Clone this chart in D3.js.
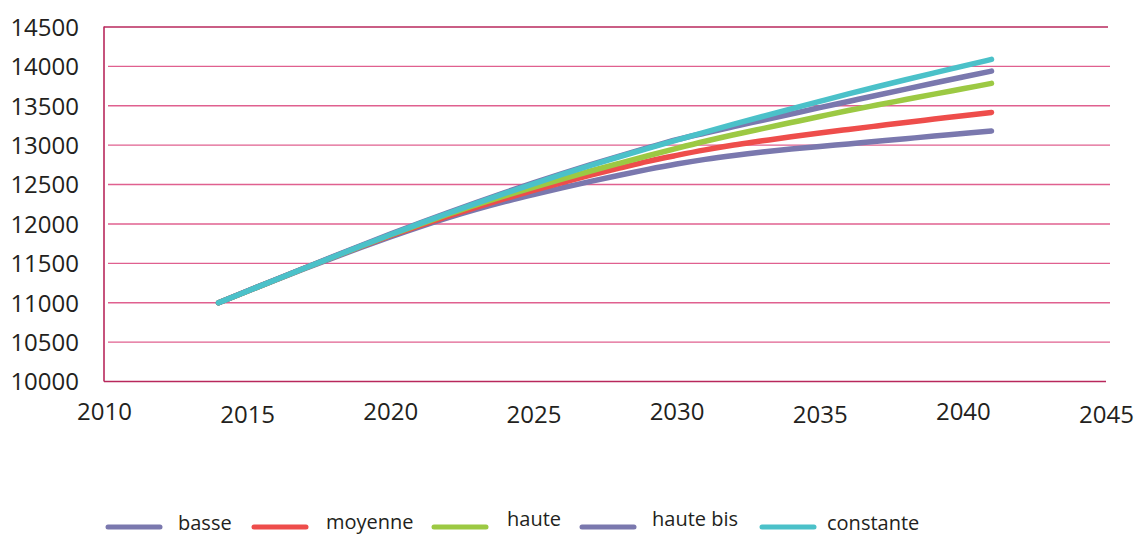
<!DOCTYPE html>
<html><head><meta charset="utf-8">
<script src="https://cdn.jsdelivr.net/npm/d3@7"></script>
<style>
html,body{margin:0;padding:0;background:#fff;}
svg{display:block;font-family:"Open Sans",sans-serif;}
</style></head>
<body>
<svg id="c" width="1142" height="536"></svg>
<script>
const years = d3.range(2014, 2042);
const basse    = [11000,11145,11289,11431,11570,11705,11835,11960,12077,12185,12283,12373,12458,12540,12618,12692,12760,12820,12870,12913,12950,12984,13016,13049,13082,13115,13147,13179];
const moyenne  = [11000,11146,11292,11437,11580,11718,11850,11975,12095,12210,12320,12425,12525,12620,12708,12795,12870,12940,13002,13055,13107,13155,13200,13244,13288,13331,13374,13416];
const haute    = [11000,11146,11292,11437,11580,11721,11860,11992,12120,12243,12357,12465,12570,12672,12770,12866,12960,13050,13132,13210,13287,13364,13440,13510,13579,13648,13716,13784];
const hauteBis = [11000,11148,11295,11441,11586,11729,11870,12008,12142,12272,12398,12520,12638,12752,12862,12968,13070,13155,13236,13316,13396,13476,13555,13634,13712,13789,13865,13940];
const constante= [11000,11146,11292,11437,11581,11723,11863,12000,12133,12262,12388,12510,12628,12742,12853,12960,13064,13166,13266,13364,13461,13556,13650,13741,13830,13917,14003,14089];
const seriesNames = ["basse","moyenne","haute","haute bis","constante"];
const seriesValues = [basse, moyenne, haute, hauteBis, constante];
const seriesColors = ["#7a78ae","#ee4d4b","#9cc943","#7a78ae","#4bc1c9"];
const yTicks = [10000,10500,11000,11500,12000,12500,13000,13500,14000,14500];
const xTicks = [2010,2015,2020,2025,2030,2035,2040,2045];

const svg = d3.select("#c");
const x = d3.scaleLinear().domain([2010,2045]).range([104,1106]);
const y = d3.scaleLinear().domain([10000,14500]).range([381.5,27]);

// gridlines
svg.append("g").selectAll("line").data(yTicks.filter(v=>v>10000 && v<14500)).join("line")
  .attr("x1",108).attr("x2",1110)
  .attr("y1",d=>y(d)).attr("y2",d=>y(d))
  .attr("stroke","#e0608f").attr("stroke-width",1.4);

// top border
svg.append("line").attr("x1",104).attr("x2",1108).attr("y1",y(14500)).attr("y2",y(14500))
  .attr("stroke","#b8285c").attr("stroke-width",1.4);
// bottom axis line
svg.append("line").attr("x1",104).attr("x2",1106).attr("y1",y(10000)).attr("y2",y(10000))
  .attr("stroke","#b8285c").attr("stroke-width",1.6);
// left axis line
svg.append("line").attr("x1",104).attr("x2",104).attr("y1",y(14500)-0.5).attr("y2",y(10000))
  .attr("stroke","#b8285c").attr("stroke-width",1.6);

// y axis labels
const ya = svg.append("g").attr("transform","translate(79,0)")
  .call(d3.axisLeft(y).tickValues(yTicks).tickSize(0).tickPadding(0).tickFormat(d3.format("d")));
ya.select(".domain").remove();
ya.selectAll("text").attr("font-family","Open Sans").attr("font-size",24).attr("fill","#231f20").attr("dy","0.35em");

// x axis labels
const xa = svg.append("g").attr("transform","translate(0,381.5)")
  .call(d3.axisBottom(x).tickValues(xTicks).tickSize(0).tickPadding(0).tickFormat(d3.format("d")));
xa.select(".domain").remove();
xa.selectAll("text").attr("font-family","Open Sans").attr("font-size",24).attr("fill","#231f20")
  .attr("dy",(d,i)=> i%2===0 ? "1.0em" : "1.12em")
  .attr("y",14.5);

// lines
const line = d3.line().x((d,i)=>x(years[i])).y(d=>y(d)).curve(d3.curveMonotoneX);
svg.append("g").selectAll("path").data(seriesValues).join("path")
  .attr("d",d=>line(d)).attr("fill","none")
  .attr("stroke",(d,i)=>seriesColors[i]).attr("stroke-width",5.5)
  .attr("stroke-linecap","round").attr("stroke-linejoin","round");

// legend
const legX = [108,254,434,582,762];
const legTX = [178,326,507,652,827];
const legTY = [530,529,526,526,530];
const lg = svg.append("g");
seriesNames.forEach((n,i)=>{
  lg.append("line").attr("x1",legX[i]).attr("x2",legX[i]+52).attr("y1",527).attr("y2",527)
    .attr("stroke",seriesColors[i]).attr("stroke-width",5).attr("stroke-linecap","round");
  lg.append("text").attr("x",legTX[i]).attr("y",legTY[i]).text(n)
    .attr("font-family","Open Sans").attr("font-size",20).attr("fill","#231f20");
});
</script>
</body></html>
